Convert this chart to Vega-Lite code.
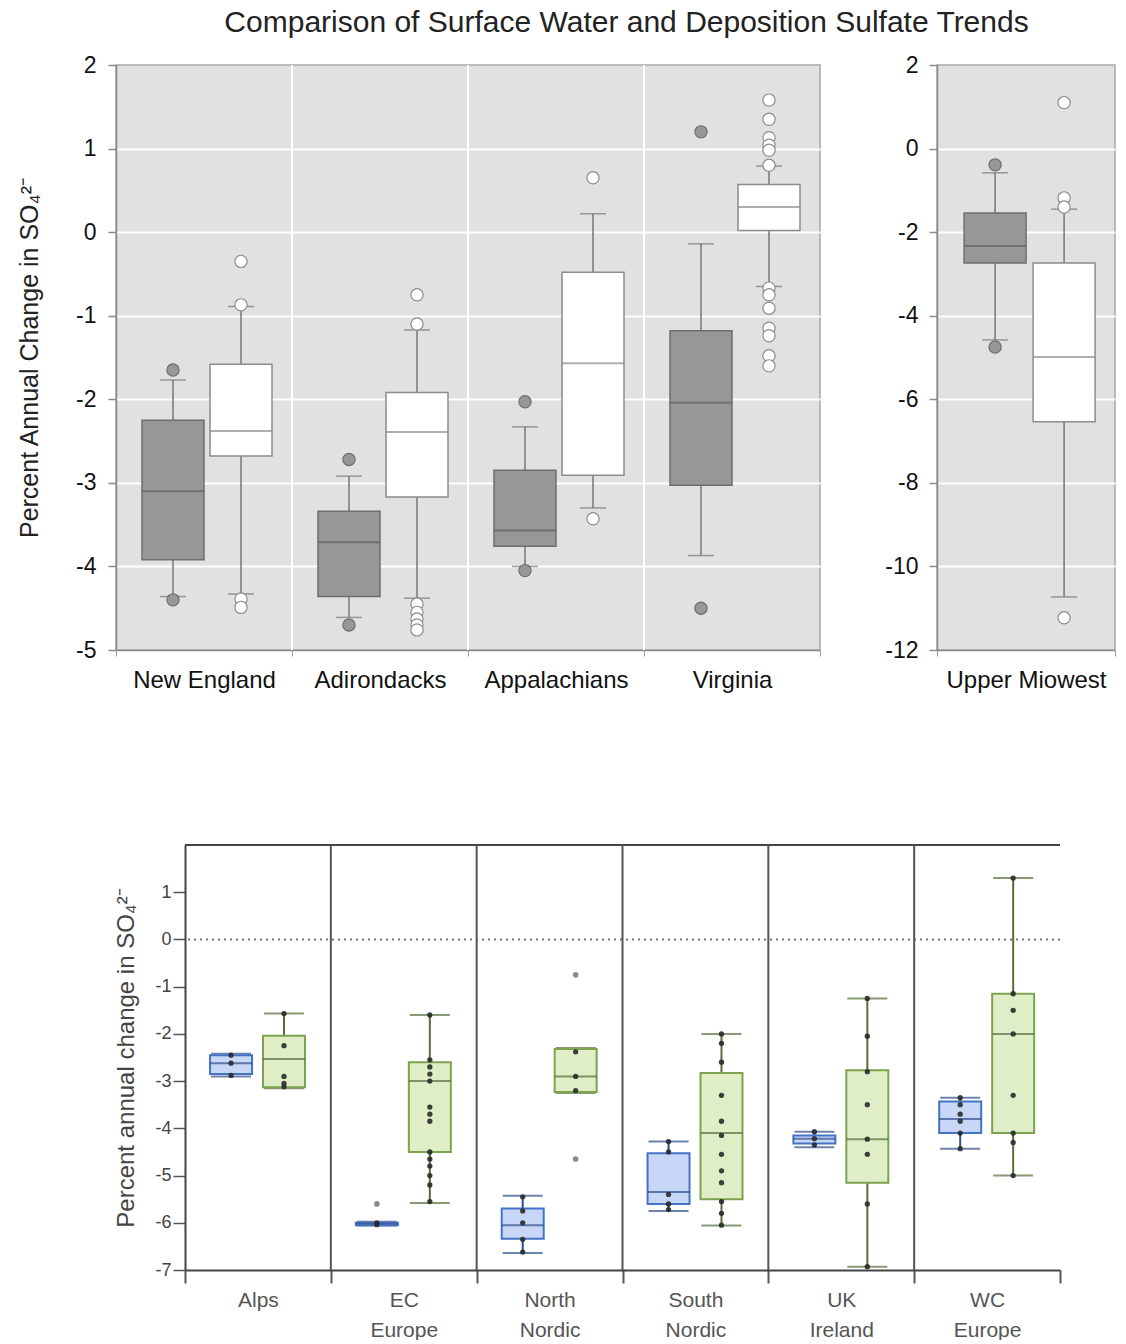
{
  "$schema": "https://vega.github.io/schema/vega-lite/v6.json",
  "padding": {"left": 16, "top": 8, "right": 0, "bottom": 0},
  "title": {"text": "Comparison of Surface Water and Deposition Sulfate Trends", "fontSize": 30, "fontWeight": "normal", "color": "#222", "anchor": "middle", "dx": 60, "offset": 15},
  "config": {"font": "Liberation Sans", "view": {"stroke": null}},
  "resolve": {"scale": {"fill": "independent", "stroke": "independent", "color": "independent", "xOffset": "independent"}},
  "datasets": {
    "usBox": [
      {"region": "New England", "series": "gray", "lower": -4.36, "q1": -3.92, "median": -3.1, "q3": -2.25, "upper": -1.77},
      {"region": "New England", "series": "white", "lower": -4.33, "q1": -2.68, "median": -2.38, "q3": -1.58, "upper": -0.89},
      {"region": "Adirondacks", "series": "gray", "lower": -4.61, "q1": -4.36, "median": -3.71, "q3": -3.34, "upper": -2.92},
      {"region": "Adirondacks", "series": "white", "lower": -4.38, "q1": -3.17, "median": -2.39, "q3": -1.92, "upper": -1.17},
      {"region": "Appalachians", "series": "gray", "lower": -4.0, "q1": -3.76, "median": -3.57, "q3": -2.85, "upper": -2.33},
      {"region": "Appalachians", "series": "white", "lower": -3.3, "q1": -2.91, "median": -1.57, "q3": -0.48, "upper": 0.22},
      {"region": "Virginia", "series": "gray", "lower": -3.87, "q1": -3.03, "median": -2.04, "q3": -1.18, "upper": -0.14},
      {"region": "Virginia", "series": "white", "lower": -0.65, "q1": 0.02, "median": 0.3, "q3": 0.57, "upper": 0.79}
    ],
    "usOut": [
      {"region": "New England", "series": "gray", "value": -1.65},
      {"region": "New England", "series": "gray", "value": -4.4},
      {"region": "New England", "series": "white", "value": -0.35},
      {"region": "New England", "series": "white", "value": -0.87},
      {"region": "New England", "series": "white", "value": -4.39},
      {"region": "New England", "series": "white", "value": -4.49},
      {"region": "Adirondacks", "series": "gray", "value": -2.72},
      {"region": "Adirondacks", "series": "gray", "value": -4.7},
      {"region": "Adirondacks", "series": "white", "value": -0.75},
      {"region": "Adirondacks", "series": "white", "value": -1.1},
      {"region": "Adirondacks", "series": "white", "value": -4.45},
      {"region": "Adirondacks", "series": "white", "value": -4.55},
      {"region": "Adirondacks", "series": "white", "value": -4.63},
      {"region": "Adirondacks", "series": "white", "value": -4.7},
      {"region": "Adirondacks", "series": "white", "value": -4.76},
      {"region": "Appalachians", "series": "gray", "value": -2.03},
      {"region": "Appalachians", "series": "gray", "value": -4.05},
      {"region": "Appalachians", "series": "white", "value": 0.65},
      {"region": "Appalachians", "series": "white", "value": -3.43},
      {"region": "Virginia", "series": "gray", "value": 1.2},
      {"region": "Virginia", "series": "gray", "value": -4.5},
      {"region": "Virginia", "series": "white", "value": 1.58},
      {"region": "Virginia", "series": "white", "value": 1.35},
      {"region": "Virginia", "series": "white", "value": 1.13},
      {"region": "Virginia", "series": "white", "value": 1.04},
      {"region": "Virginia", "series": "white", "value": 0.98},
      {"region": "Virginia", "series": "white", "value": 0.8},
      {"region": "Virginia", "series": "white", "value": -0.67},
      {"region": "Virginia", "series": "white", "value": -0.75},
      {"region": "Virginia", "series": "white", "value": -0.91},
      {"region": "Virginia", "series": "white", "value": -1.15},
      {"region": "Virginia", "series": "white", "value": -1.24},
      {"region": "Virginia", "series": "white", "value": -1.48},
      {"region": "Virginia", "series": "white", "value": -1.6}
    ],
    "umBox": [
      {"region": "Upper Miowest", "series": "gray", "lower": -4.58, "q1": -2.74, "median": -2.33, "q3": -1.54, "upper": -0.58},
      {"region": "Upper Miowest", "series": "white", "lower": -10.73, "q1": -6.54, "median": -4.99, "q3": -2.74, "upper": -1.45}
    ],
    "umOut": [
      {"region": "Upper Miowest", "series": "gray", "value": -0.39},
      {"region": "Upper Miowest", "series": "gray", "value": -4.75},
      {"region": "Upper Miowest", "series": "white", "value": 1.1},
      {"region": "Upper Miowest", "series": "white", "value": -1.18},
      {"region": "Upper Miowest", "series": "white", "value": -1.4},
      {"region": "Upper Miowest", "series": "white", "value": -11.23}
    ],
    "euBox": [
      {"region": "Alps", "series": "blue", "lower": -2.9, "q1": -2.85, "median": -2.62, "q3": -2.45, "upper": -2.42},
      {"region": "Alps", "series": "green", "lower": -3.15, "q1": -3.13, "median": -2.53, "q3": -2.04, "upper": -1.57},
      {"region": "EC Europe", "series": "blue", "lower": -6.06, "q1": -6.05, "median": -6.02, "q3": -6.0, "upper": -5.98},
      {"region": "EC Europe", "series": "green", "lower": -5.58, "q1": -4.5, "median": -3.0, "q3": -2.6, "upper": -1.6},
      {"region": "North Nordic", "series": "blue", "lower": -6.64, "q1": -6.34, "median": -6.05, "q3": -5.7, "upper": -5.43},
      {"region": "North Nordic", "series": "green", "lower": -3.25, "q1": -3.23, "median": -2.9, "q3": -2.32, "upper": -2.3},
      {"region": "South Nordic", "series": "blue", "lower": -5.75, "q1": -5.6, "median": -5.35, "q3": -4.53, "upper": -4.28},
      {"region": "South Nordic", "series": "green", "lower": -6.06, "q1": -5.5, "median": -4.1, "q3": -2.83, "upper": -2.0},
      {"region": "UK Ireland", "series": "blue", "lower": -4.4, "q1": -4.32, "median": -4.22, "q3": -4.15, "upper": -4.07},
      {"region": "UK Ireland", "series": "green", "lower": -6.93, "q1": -5.15, "median": -4.23, "q3": -2.77, "upper": -1.25},
      {"region": "WC Europe", "series": "blue", "lower": -4.43, "q1": -4.1, "median": -3.8, "q3": -3.43, "upper": -3.35},
      {"region": "WC Europe", "series": "green", "lower": -5.0, "q1": -4.1, "median": -2.0, "q3": -1.15, "upper": 1.3}
    ],
    "euPts": [
      {"region": "Alps", "series": "blue", "kind": "pt", "value": -2.45},
      {"region": "Alps", "series": "blue", "kind": "pt", "value": -2.62},
      {"region": "Alps", "series": "blue", "kind": "pt", "value": -2.88},
      {"region": "Alps", "series": "green", "kind": "pt", "value": -1.57},
      {"region": "Alps", "series": "green", "kind": "pt", "value": -2.25},
      {"region": "Alps", "series": "green", "kind": "pt", "value": -2.9},
      {"region": "Alps", "series": "green", "kind": "pt", "value": -3.05},
      {"region": "Alps", "series": "green", "kind": "pt", "value": -3.12},
      {"region": "EC Europe", "series": "blue", "kind": "pt", "value": -6.0},
      {"region": "EC Europe", "series": "blue", "kind": "pt", "value": -6.04},
      {"region": "EC Europe", "series": "blue", "kind": "out", "value": -5.6},
      {"region": "EC Europe", "series": "green", "kind": "pt", "value": -1.6},
      {"region": "EC Europe", "series": "green", "kind": "pt", "value": -2.55},
      {"region": "EC Europe", "series": "green", "kind": "pt", "value": -2.7},
      {"region": "EC Europe", "series": "green", "kind": "pt", "value": -2.85},
      {"region": "EC Europe", "series": "green", "kind": "pt", "value": -3.0},
      {"region": "EC Europe", "series": "green", "kind": "pt", "value": -3.55},
      {"region": "EC Europe", "series": "green", "kind": "pt", "value": -3.7},
      {"region": "EC Europe", "series": "green", "kind": "pt", "value": -3.85},
      {"region": "EC Europe", "series": "green", "kind": "pt", "value": -4.5},
      {"region": "EC Europe", "series": "green", "kind": "pt", "value": -4.65},
      {"region": "EC Europe", "series": "green", "kind": "pt", "value": -4.8},
      {"region": "EC Europe", "series": "green", "kind": "pt", "value": -5.0},
      {"region": "EC Europe", "series": "green", "kind": "pt", "value": -5.2},
      {"region": "EC Europe", "series": "green", "kind": "pt", "value": -5.55},
      {"region": "North Nordic", "series": "blue", "kind": "pt", "value": -5.45},
      {"region": "North Nordic", "series": "blue", "kind": "pt", "value": -5.75},
      {"region": "North Nordic", "series": "blue", "kind": "pt", "value": -6.0},
      {"region": "North Nordic", "series": "blue", "kind": "pt", "value": -6.35},
      {"region": "North Nordic", "series": "blue", "kind": "pt", "value": -6.62},
      {"region": "North Nordic", "series": "green", "kind": "pt", "value": -2.38},
      {"region": "North Nordic", "series": "green", "kind": "pt", "value": -2.9},
      {"region": "North Nordic", "series": "green", "kind": "pt", "value": -3.2},
      {"region": "North Nordic", "series": "green", "kind": "out", "value": -0.75},
      {"region": "North Nordic", "series": "green", "kind": "out", "value": -4.65},
      {"region": "South Nordic", "series": "blue", "kind": "pt", "value": -4.28},
      {"region": "South Nordic", "series": "blue", "kind": "pt", "value": -4.5},
      {"region": "South Nordic", "series": "blue", "kind": "pt", "value": -5.4},
      {"region": "South Nordic", "series": "blue", "kind": "pt", "value": -5.6},
      {"region": "South Nordic", "series": "blue", "kind": "pt", "value": -5.72},
      {"region": "South Nordic", "series": "green", "kind": "pt", "value": -2.0},
      {"region": "South Nordic", "series": "green", "kind": "pt", "value": -2.2},
      {"region": "South Nordic", "series": "green", "kind": "pt", "value": -2.6},
      {"region": "South Nordic", "series": "green", "kind": "pt", "value": -3.3},
      {"region": "South Nordic", "series": "green", "kind": "pt", "value": -3.85},
      {"region": "South Nordic", "series": "green", "kind": "pt", "value": -4.15},
      {"region": "South Nordic", "series": "green", "kind": "pt", "value": -4.55},
      {"region": "South Nordic", "series": "green", "kind": "pt", "value": -4.9},
      {"region": "South Nordic", "series": "green", "kind": "pt", "value": -5.15},
      {"region": "South Nordic", "series": "green", "kind": "pt", "value": -5.55},
      {"region": "South Nordic", "series": "green", "kind": "pt", "value": -5.8},
      {"region": "South Nordic", "series": "green", "kind": "pt", "value": -6.05},
      {"region": "UK Ireland", "series": "blue", "kind": "pt", "value": -4.07},
      {"region": "UK Ireland", "series": "blue", "kind": "pt", "value": -4.22},
      {"region": "UK Ireland", "series": "blue", "kind": "pt", "value": -4.35},
      {"region": "UK Ireland", "series": "green", "kind": "pt", "value": -1.25},
      {"region": "UK Ireland", "series": "green", "kind": "pt", "value": -2.05},
      {"region": "UK Ireland", "series": "green", "kind": "pt", "value": -2.8},
      {"region": "UK Ireland", "series": "green", "kind": "pt", "value": -3.5},
      {"region": "UK Ireland", "series": "green", "kind": "pt", "value": -4.23},
      {"region": "UK Ireland", "series": "green", "kind": "pt", "value": -4.55},
      {"region": "UK Ireland", "series": "green", "kind": "pt", "value": -5.6},
      {"region": "UK Ireland", "series": "green", "kind": "pt", "value": -6.93},
      {"region": "WC Europe", "series": "blue", "kind": "pt", "value": -3.35},
      {"region": "WC Europe", "series": "blue", "kind": "pt", "value": -3.5},
      {"region": "WC Europe", "series": "blue", "kind": "pt", "value": -3.7},
      {"region": "WC Europe", "series": "blue", "kind": "pt", "value": -3.85},
      {"region": "WC Europe", "series": "blue", "kind": "pt", "value": -4.1},
      {"region": "WC Europe", "series": "blue", "kind": "pt", "value": -4.43},
      {"region": "WC Europe", "series": "green", "kind": "pt", "value": 1.3},
      {"region": "WC Europe", "series": "green", "kind": "pt", "value": -1.15},
      {"region": "WC Europe", "series": "green", "kind": "pt", "value": -1.5},
      {"region": "WC Europe", "series": "green", "kind": "pt", "value": -2.0},
      {"region": "WC Europe", "series": "green", "kind": "pt", "value": -3.3},
      {"region": "WC Europe", "series": "green", "kind": "pt", "value": -4.1},
      {"region": "WC Europe", "series": "green", "kind": "pt", "value": -4.3},
      {"region": "WC Europe", "series": "green", "kind": "pt", "value": -5.0}
    ]
  },
  "spacing": 151,
  "vconcat": [
    {
      "spacing": 62,
      "resolve": {"scale": {"xOffset": "independent"}},
      "hconcat": [
        {
          "width": 704, "height": 585,
          "view": {"fill": "#e1e1e1", "stroke": "#a8a8a8", "strokeWidth": 1.5},
          "layer": [
            {
              "data": {"name": "usBox"},
              "transform": [{"filter": "datum.series === 'gray' && datum.region !== 'New England'"}],
              "mark": {"type": "rule", "color": "#ffffff", "strokeWidth": 2},
              "encoding": {
                "x": {"field": "region", "type": "nominal", "bandPosition": 0, "title": null, "scale": {"domain": ["New England", "Adirondacks", "Appalachians", "Virginia"], "paddingInner": 0, "paddingOuter": 0}, "axis": {"labelFontSize": 24, "labelColor": "#111", "labelAngle": 0, "labelPadding": 12, "tickBand": "extent", "tickSize": 6, "tickColor": "#9a9a9a", "domainColor": "#8a8a8a", "domainWidth": 1.5, "grid": false}}
              }
            },
            {
              "data": {"name": "usBox"},
              "mark": {"type": "rule", "color": "#767676", "strokeWidth": 1.5},
              "encoding": {
                "x": {"field": "region", "type": "nominal", "title": null},
                "xOffset": {"field": "series", "type": "nominal", "scale": {"domain": ["gray", "white"], "paddingInner": 0, "paddingOuter": 0.294, "align": 0.575}},
                "y": {"field": "lower", "type": "quantitative", "title": "Percent Annual Change in SO₄²⁻", "scale": {"domain": [-5, 2], "nice": false, "zero": false},
                  "axis": {"values": [-5, -4, -3, -2, -1, 0, 1, 2], "labelExpr": "'' + datum.value", "tickSize": 8, "tickColor": "#8a8a8a", "tickWidth": 1.5, "domainColor": "#8a8a8a", "domainWidth": 1.5, "labelFontSize": 23, "labelColor": "#111", "labelPadding": 12, "grid": true, "gridColor": "#ffffff", "gridWidth": 2, "gridOpacity": {"condition": {"test": "datum.value >= 2 || datum.value <= -5", "value": 0}, "value": 1}, "titleFontSize": 25, "titleFontWeight": "normal", "titleColor": "#222", "titlePadding": 33}},
                "y2": {"field": "upper"}
              }
            },
            {
              "data": {"name": "usBox"},
              "mark": {"type": "tick", "color": "#767676", "size": 26, "thickness": 1.5},
              "encoding": {
                "x": {"field": "region", "type": "nominal", "title": null},
                "xOffset": {"field": "series", "type": "nominal"},
                "y": {"field": "lower", "type": "quantitative", "title": "Percent Annual Change in SO₄²⁻"}
              }
            },
            {
              "data": {"name": "usBox"},
              "mark": {"type": "tick", "color": "#767676", "size": 26, "thickness": 1.5},
              "encoding": {
                "x": {"field": "region", "type": "nominal", "title": null},
                "xOffset": {"field": "series", "type": "nominal"},
                "y": {"field": "upper", "type": "quantitative", "title": "Percent Annual Change in SO₄²⁻"}
              }
            },
            {
              "data": {"name": "usBox"},
              "mark": {"type": "bar", "size": 62, "strokeWidth": 1.5},
              "encoding": {
                "x": {"field": "region", "type": "nominal", "title": null},
                "xOffset": {"field": "series", "type": "nominal"},
                "y": {"field": "q1", "type": "quantitative", "title": "Percent Annual Change in SO₄²⁻"},
                "y2": {"field": "q3"},
                "fill": {"field": "series", "type": "nominal", "scale": {"domain": ["gray", "white"], "range": ["#979797", "#ffffff"]}, "legend": null},
                "stroke": {"field": "series", "type": "nominal", "scale": {"domain": ["gray", "white"], "range": ["#6e6e6e", "#8c8c8c"]}, "legend": null}
              }
            },
            {
              "data": {"name": "usBox"},
              "mark": {"type": "tick", "size": 62, "thickness": 2},
              "encoding": {
                "x": {"field": "region", "type": "nominal", "title": null},
                "xOffset": {"field": "series", "type": "nominal"},
                "y": {"field": "median", "type": "quantitative", "title": "Percent Annual Change in SO₄²⁻"},
                "color": {"field": "series", "type": "nominal", "scale": {"domain": ["gray", "white"], "range": ["#5f5f5f", "#8c8c8c"]}, "legend": null}
              }
            },
            {
              "data": {"name": "usOut"},
              "mark": {"type": "circle", "size": 150, "opacity": 1, "strokeWidth": 1.2},
              "encoding": {
                "x": {"field": "region", "type": "nominal", "title": null},
                "xOffset": {"field": "series", "type": "nominal"},
                "y": {"field": "value", "type": "quantitative", "title": "Percent Annual Change in SO₄²⁻"},
                "fill": {"field": "series", "type": "nominal", "legend": null},
                "stroke": {"field": "series", "type": "nominal", "legend": null}
              }
            }
          ]
        },
        {
          "width": 178, "height": 585,
          "view": {"fill": "#e1e1e1", "stroke": "#a8a8a8", "strokeWidth": 1.5},
          "layer": [
            {
              "data": {"name": "umBox"},
              "mark": {"type": "rule", "color": "#767676", "strokeWidth": 1.5},
              "encoding": {
                "x": {"field": "region", "type": "nominal", "title": null, "scale": {"domain": ["Upper Miowest"], "paddingInner": 0, "paddingOuter": 0}, "axis": {"labelFontSize": 24, "labelColor": "#111", "labelAngle": 0, "labelPadding": 12, "tickBand": "extent", "tickSize": 6, "tickColor": "#9a9a9a", "domainColor": "#8a8a8a", "domainWidth": 1.5, "grid": false}},
                "xOffset": {"field": "series", "type": "nominal", "scale": {"domain": ["gray", "white"], "paddingInner": 0, "paddingOuter": 0.29, "align": 0.59}},
                "y": {"field": "lower", "type": "quantitative", "title": null, "scale": {"domain": [-12, 2], "nice": false, "zero": false},
                  "axis": {"values": [-12, -10, -8, -6, -4, -2, 0, 2], "labelExpr": "'' + datum.value", "tickSize": 8, "tickColor": "#8a8a8a", "tickWidth": 1.5, "domainColor": "#8a8a8a", "domainWidth": 1.5, "labelFontSize": 23, "labelColor": "#111", "labelPadding": 11, "grid": true, "gridColor": "#ffffff", "gridWidth": 2, "gridOpacity": {"condition": {"test": "datum.value >= 2 || datum.value <= -12", "value": 0}, "value": 1}}},
                "y2": {"field": "upper"}
              }
            },
            {
              "data": {"name": "umBox"},
              "mark": {"type": "tick", "color": "#767676", "size": 26, "thickness": 1.5},
              "encoding": {
                "x": {"field": "region", "type": "nominal", "title": null},
                "xOffset": {"field": "series", "type": "nominal"},
                "y": {"field": "lower", "type": "quantitative", "title": null}
              }
            },
            {
              "data": {"name": "umBox"},
              "mark": {"type": "tick", "color": "#767676", "size": 26, "thickness": 1.5},
              "encoding": {
                "x": {"field": "region", "type": "nominal", "title": null},
                "xOffset": {"field": "series", "type": "nominal"},
                "y": {"field": "upper", "type": "quantitative", "title": null}
              }
            },
            {
              "data": {"name": "umBox"},
              "mark": {"type": "bar", "size": 62, "strokeWidth": 1.5},
              "encoding": {
                "x": {"field": "region", "type": "nominal", "title": null},
                "xOffset": {"field": "series", "type": "nominal"},
                "y": {"field": "q1", "type": "quantitative", "title": null},
                "y2": {"field": "q3"},
                "fill": {"field": "series", "type": "nominal", "scale": {"domain": ["gray", "white"], "range": ["#979797", "#ffffff"]}, "legend": null},
                "stroke": {"field": "series", "type": "nominal", "scale": {"domain": ["gray", "white"], "range": ["#6e6e6e", "#8c8c8c"]}, "legend": null}
              }
            },
            {
              "data": {"name": "umBox"},
              "mark": {"type": "tick", "size": 62, "thickness": 2},
              "encoding": {
                "x": {"field": "region", "type": "nominal", "title": null},
                "xOffset": {"field": "series", "type": "nominal"},
                "y": {"field": "median", "type": "quantitative", "title": null},
                "color": {"field": "series", "type": "nominal", "scale": {"domain": ["gray", "white"], "range": ["#5f5f5f", "#8c8c8c"]}, "legend": null}
              }
            },
            {
              "data": {"name": "umOut"},
              "mark": {"type": "circle", "size": 150, "opacity": 1, "strokeWidth": 1.2},
              "encoding": {
                "x": {"field": "region", "type": "nominal", "title": null},
                "xOffset": {"field": "series", "type": "nominal"},
                "y": {"field": "value", "type": "quantitative", "title": null},
                "fill": {"field": "series", "type": "nominal", "legend": null},
                "stroke": {"field": "series", "type": "nominal", "legend": null}
              }
            }
          ]
        }
      ]
    },
    {
      "spacing": -3,
      "hconcat": [
        {
          "width": 1, "height": 425,
          "data": {"values": [{}]},
          "mark": {"type": "text", "text": ""},
          "encoding": {}
        },
        {
          "width": 875, "height": 425,
          "layer": [
            {
              "data": {"values": [{}]},
              "mark": {"type": "rule", "color": "#444", "strokeWidth": 2},
              "encoding": {"y": {"datum": 2, "type": "quantitative", "title": "Percent annual change in SO₄²⁻"}}
            },
            {
              "data": {"values": [{}]},
              "mark": {"type": "rule", "color": "#777", "strokeWidth": 2, "strokeDash": [2, 4]},
              "encoding": {"y": {"datum": 0, "type": "quantitative", "title": "Percent annual change in SO₄²⁻"}}
            },
            {
              "data": {"name": "euBox"},
              "transform": [{"filter": "datum.series === 'blue' && datum.region !== 'Alps'"}],
              "mark": {"type": "rule", "color": "#555", "strokeWidth": 2},
              "encoding": {
                "x": {"field": "region", "type": "nominal", "bandPosition": 0, "title": null, "scale": {"domain": ["Alps", "EC Europe", "North Nordic", "South Nordic", "UK Ireland", "WC Europe"], "paddingInner": 0, "paddingOuter": 0}, "axis": {"labelExpr": "split(datum.label, ' ')", "labelFontSize": 21, "labelColor": "#555", "labelLineHeight": 30, "labelAngle": 0, "labelPadding": 6, "tickBand": "extent", "tickSize": 13, "tickColor": "#555", "tickWidth": 2, "domainColor": "#444", "domainWidth": 2, "grid": false}}
              }
            },
            {
              "data": {"name": "euBox"},
              "mark": {"type": "rule", "strokeWidth": 2},
              "encoding": {
                "x": {"field": "region", "type": "nominal", "title": null},
                "xOffset": {"field": "series", "type": "nominal", "scale": {"domain": ["blue", "green"], "paddingInner": 0, "paddingOuter": 0.377, "align": 0.49}},
                "y": {"field": "lower", "type": "quantitative", "title": "Percent annual change in SO₄²⁻", "scale": {"domain": [-7, 2], "nice": false, "zero": false},
                  "axis": {"values": [-7, -6.5, -6, -5.5, -5, -4.5, -4, -3.5, -3, -2.5, -2, -1.5, -1, -0.5, 0, 0.5, 1, 1.5], "labelExpr": "datum.value % 1 === 0 ? '' + datum.value : ''", "tickSize": {"condition": {"test": "datum.value % 1 === 0", "value": 12}, "value": 5}, "tickColor": "#555", "tickWidth": 1.5, "domainColor": "#444", "domainWidth": 2, "labelFontSize": 18, "labelColor": "#444", "labelPadding": 2, "grid": false, "titleFontSize": 24, "titleFontWeight": "normal", "titleColor": "#444", "titlePadding": 16}},
                "y2": {"field": "upper"},
                "color": {"field": "series", "type": "nominal", "scale": {"domain": ["blue", "green"], "range": ["#2d4f8c", "#566e3a"]}, "legend": null}
              }
            },
            {
              "data": {"name": "euBox"},
              "mark": {"type": "tick", "size": 40, "thickness": 2},
              "encoding": {
                "x": {"field": "region", "type": "nominal", "title": null},
                "xOffset": {"field": "series", "type": "nominal"},
                "y": {"field": "lower", "type": "quantitative", "title": "Percent annual change in SO₄²⁻"},
                "color": {"field": "series", "type": "nominal", "legend": null}
              }
            },
            {
              "data": {"name": "euBox"},
              "mark": {"type": "tick", "size": 40, "thickness": 2},
              "encoding": {
                "x": {"field": "region", "type": "nominal", "title": null},
                "xOffset": {"field": "series", "type": "nominal"},
                "y": {"field": "upper", "type": "quantitative", "title": "Percent annual change in SO₄²⁻"},
                "color": {"field": "series", "type": "nominal", "legend": null}
              }
            },
            {
              "data": {"name": "euBox"},
              "mark": {"type": "bar", "size": 42, "strokeWidth": 2},
              "encoding": {
                "x": {"field": "region", "type": "nominal", "title": null},
                "xOffset": {"field": "series", "type": "nominal"},
                "y": {"field": "q1", "type": "quantitative", "title": "Percent annual change in SO₄²⁻"},
                "y2": {"field": "q3"},
                "fill": {"field": "series", "type": "nominal", "scale": {"domain": ["blue", "green"], "range": ["#c8d6f7", "#dfeec6"]}, "legend": null},
                "stroke": {"field": "series", "type": "nominal", "scale": {"domain": ["blue", "green"], "range": ["#4473c5", "#7da34f"]}, "legend": null}
              }
            },
            {
              "data": {"name": "euBox"},
              "mark": {"type": "tick", "size": 42, "thickness": 2},
              "encoding": {
                "x": {"field": "region", "type": "nominal", "title": null},
                "xOffset": {"field": "series", "type": "nominal"},
                "y": {"field": "median", "type": "quantitative", "title": "Percent annual change in SO₄²⁻"},
                "color": {"field": "series", "type": "nominal", "legend": null}
              }
            },
            {
              "data": {"name": "euPts"},
              "transform": [{"filter": "datum.kind === 'pt'"}],
              "mark": {"type": "circle", "size": 28, "color": "#2a2a2a", "opacity": 0.9},
              "encoding": {
                "x": {"field": "region", "type": "nominal", "title": null},
                "xOffset": {"field": "series", "type": "nominal"},
                "y": {"field": "value", "type": "quantitative", "title": "Percent annual change in SO₄²⁻"}
              }
            },
            {
              "data": {"name": "euPts"},
              "transform": [{"filter": "datum.kind === 'out'"}],
              "mark": {"type": "circle", "size": 32, "color": "#8a8a8a", "opacity": 1},
              "encoding": {
                "x": {"field": "region", "type": "nominal", "title": null},
                "xOffset": {"field": "series", "type": "nominal"},
                "y": {"field": "value", "type": "quantitative", "title": "Percent annual change in SO₄²⁻"}
              }
            }
          ]
        }
      ]
    }
  ]
}
